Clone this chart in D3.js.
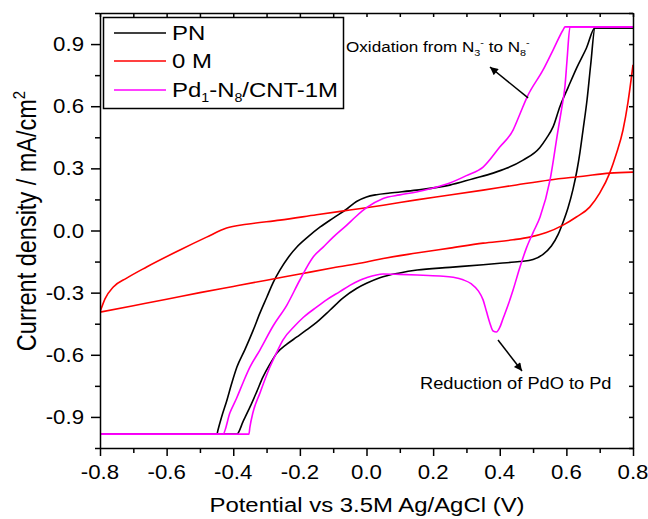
<!DOCTYPE html>
<html>
<head>
<meta charset="utf-8">
<script src="https://cdn.jsdelivr.net/npm/d3@7"></script>
<style>
body { margin: 0; background: #fff; }
svg { display: block; font-family: "Liberation Sans", Arial, sans-serif; }
</style>
</head>
<body>
<div id="chart"></div>
<script>
// axis ticks
var xTicks = [-0.8, -0.6, -0.4, -0.2, 0.0, 0.2, 0.4, 0.6, 0.8];
var xMinor = [-0.7, -0.5, -0.3, -0.1, 0.1, 0.3, 0.5, 0.7];
var yTicks = [-0.9, -0.6, -0.3, 0.0, 0.3, 0.6, 0.9];
var yMinor = [-1.05, -0.75, -0.45, -0.15, 0.15, 0.45, 0.75, 1.05];

var seriesNames = ["PN", "0 M", "Pd1-N8/CNT-1M"];

// [potential (V), current density (mA/cm2)], one array per sweep direction
var pnForward = [
  [-0.80,-0.983],[-0.389,-0.983],[-0.37,-0.92],[-0.35,-0.853],[-0.33,-0.78],[-0.311,-0.708],
  [-0.29,-0.645],[-0.269,-0.592],[-0.24,-0.55],[-0.209,-0.514],[-0.18,-0.48],[-0.149,-0.442],
  [-0.11,-0.385],[-0.07,-0.325],[-0.03,-0.28],[0.00,-0.255],[0.04,-0.228],[0.10,-0.205],
  [0.152,-0.191],[0.25,-0.178],[0.35,-0.165],[0.40,-0.158],[0.46,-0.15],[0.50,-0.14],
  [0.53,-0.115],[0.555,-0.075],[0.575,-0.02],[0.59,0.04],[0.605,0.11],[0.62,0.20],
  [0.632,0.292],[0.641,0.38],[0.65,0.485],[0.662,0.63],[0.673,0.80],[0.686,0.978],[0.80,0.978]
];
var pnReverse = [
  [0.80,0.978],[0.686,0.978],[0.66,0.88],[0.632,0.789],[0.605,0.69],[0.581,0.60],[0.56,0.50],
  [0.54,0.445],[0.52,0.40],[0.47,0.34],[0.42,0.30],[0.38,0.277],[0.32,0.25],[0.25,0.219],
  [0.15,0.195],[0.07,0.181],[0.03,0.173],[0.00,0.162],[-0.03,0.14],[-0.058,0.105],[-0.10,0.06],
  [-0.139,0.017],[-0.175,-0.03],[-0.209,-0.08],[-0.235,-0.13],[-0.26,-0.191],[-0.28,-0.25],
  [-0.299,-0.321],[-0.32,-0.399],[-0.34,-0.481],[-0.365,-0.575],[-0.389,-0.659],[-0.405,-0.74],
  [-0.419,-0.819],[-0.435,-0.90],[-0.446,-0.964],[-0.449,-0.983],[-0.80,-0.983]
];

var zeroMForward = [
  [-0.80,-0.394],[-0.70,-0.363],[-0.60,-0.332],[-0.50,-0.30],[-0.40,-0.27],[-0.30,-0.24],
  [-0.20,-0.21],[-0.10,-0.18],[0.00,-0.152],[0.05,-0.135],[0.15,-0.109],[0.25,-0.085],
  [0.35,-0.061],[0.44,-0.045],[0.49,-0.032],[0.54,-0.01],[0.59,0.026],[0.63,0.065],
  [0.67,0.113],[0.70,0.18],[0.73,0.277],[0.75,0.37],[0.77,0.485],[0.785,0.62],[0.80,0.80]
];
var zeroMReverse = [
  [0.80,0.282],[0.73,0.277],[0.65,0.262],[0.55,0.244],[0.45,0.22],[0.35,0.195],[0.25,0.171],
  [0.15,0.148],[0.05,0.122],[-0.05,0.099],[-0.15,0.076],[-0.26,0.05],[-0.36,0.03],
  [-0.42,0.012],[-0.48,-0.032],[-0.56,-0.094],[-0.66,-0.176],[-0.72,-0.23],[-0.76,-0.273],
  [-0.785,-0.33],[-0.80,-0.394]
];

var pdForward = [
  [-0.80,-0.983],[-0.353,-0.983],[-0.35,-0.949],[-0.341,-0.88],[-0.32,-0.785],[-0.29,-0.659],
  [-0.27,-0.59],[-0.251,-0.529],[-0.215,-0.46],[-0.19,-0.42],[-0.15,-0.37],[-0.12,-0.335],
  [-0.08,-0.295],[-0.05,-0.265],[-0.02,-0.24],[0.00,-0.228],[0.05,-0.21],[0.10,-0.212],
  [0.152,-0.215],[0.22,-0.22],[0.26,-0.226],[0.29,-0.238],[0.315,-0.258],[0.335,-0.29],
  [0.35,-0.335],[0.36,-0.39],[0.37,-0.445],[0.38,-0.485],[0.39,-0.49],[0.40,-0.468],
  [0.41,-0.425],[0.425,-0.36],[0.44,-0.287],[0.461,-0.175],[0.48,-0.085],[0.50,-0.01],
  [0.521,0.065],[0.551,0.244],[0.575,0.485],[0.587,0.60],[0.596,0.70],[0.602,0.823],
  [0.611,0.983],[0.80,0.983]
];
var pdReverse = [
  [0.80,0.983],[0.596,0.983],[0.59,0.968],[0.56,0.871],[0.53,0.775],[0.482,0.644],[0.46,0.56],
  [0.44,0.485],[0.40,0.403],[0.35,0.306],[0.30,0.265],[0.25,0.229],[0.20,0.205],[0.15,0.186],
  [0.10,0.172],[0.05,0.155],[0.00,0.11],[-0.03,0.07],[-0.06,0.025],[-0.10,-0.032],
  [-0.13,-0.08],[-0.16,-0.128],[-0.20,-0.239],[-0.239,-0.36],[-0.28,-0.46],[-0.32,-0.577],
  [-0.35,-0.66],[-0.371,-0.736],[-0.39,-0.81],[-0.41,-0.88],[-0.431,-0.983],[-0.80,-0.983]
];

var colors = ["#000000", "#ff0000", "#ff00ff"];

var width = 648, height = 519;
var margin = {top: 13, right: 15, bottom: 71, left: 100};
var plotW = width - margin.left - margin.right;
var plotH = height - margin.top - margin.bottom;
var sx = 1.14; // reference text is a bit wide

var xScale = d3.scaleLinear().domain([-0.8, 0.8]).range([0, plotW]);
var yScale = d3.scaleLinear().domain([-1.05, 1.05]).range([plotH, 0]);

var svg = d3.select("#chart").append("svg")
  .attr("width", width)
  .attr("height", height);

var g = svg.append("g")
  .attr("transform", "translate(" + margin.left + "," + margin.top + ")");

g.append("clipPath").attr("id", "plot-clip")
  .append("rect").attr("width", plotW).attr("height", plotH);

var line = d3.line()
  .curve(d3.curveMonotoneX)
  .x(function(d) { return xScale(d[0]); })
  .y(function(d) { return yScale(d[1]); });

var branches = [
  {data: pnForward, s: 0}, {data: pnReverse, s: 0},
  {data: zeroMForward, s: 1}, {data: zeroMReverse, s: 1},
  {data: pdForward, s: 2}, {data: pdReverse, s: 2}
];
g.append("g").attr("clip-path", "url(#plot-clip)")
  .selectAll("path")
  .data(branches)
  .enter().append("path")
  .attr("d", function(d) { return line(d.data); })
  .attr("fill", "none")
  .attr("stroke", function(d) { return colors[d.s]; })
  .attr("stroke-width", 1.6)
  .attr("stroke-linejoin", "round");

// axes
function addAxis(axis, tx, ty, keepDomain) {
  var a = g.append("g").attr("transform", "translate(" + tx + "," + ty + ")").call(axis);
  if (!keepDomain) a.select(".domain").remove();
  a.selectAll("path, line").attr("stroke", "#000").attr("stroke-width", 1.5);
  a.selectAll("text").remove();
}

addAxis(d3.axisBottom(xScale).tickValues(xTicks).tickSizeInner(8).tickSizeOuter(0), 0, plotH, true);
addAxis(d3.axisBottom(xScale).tickValues(xMinor).tickSizeInner(5).tickSizeOuter(0), 0, plotH, false);
addAxis(d3.axisLeft(yScale).tickValues(yTicks).tickSizeInner(9).tickSizeOuter(0), 0, 0, true);
addAxis(d3.axisLeft(yScale).tickValues(yMinor).tickSizeInner(5).tickSizeOuter(0), 0, 0, false);
addAxis(d3.axisTop(xScale).tickValues(xTicks.concat(xMinor)).tickSizeInner(-4).tickSizeOuter(0), 0, 0, true);
addAxis(d3.axisRight(yScale).tickValues(yTicks.concat(yMinor)).tickSizeInner(-4).tickSizeOuter(0), plotW, 0, true);

g.selectAll(".xlab").data(xTicks).enter().append("text")
  .attr("class", "xlab")
  .attr("transform", function(d) { return "translate(" + xScale(d) + "," + (plotH + 31) + ") scale(" + sx + ",1)"; })
  .attr("text-anchor", "middle")
  .attr("font-size", 19.5)
  .text(function(d) { return d.toFixed(1); });

g.selectAll(".ylab").data(yTicks).enter().append("text")
  .attr("class", "ylab")
  .attr("transform", function(d) { return "translate(-16," + (yScale(d) + 7) + ") scale(" + sx + ",1)"; })
  .attr("text-anchor", "end")
  .attr("font-size", 19.5)
  .text(function(d) { return d.toFixed(1); });

// axis titles
svg.append("text")
  .attr("transform", "translate(367,512) scale(" + sx + ",1)")
  .attr("text-anchor", "middle")
  .attr("font-size", 21)
  .text("Potential vs 3.5M Ag/AgCl (V)");

var yt = svg.append("text")
  .attr("transform", "translate(36,221) scale(" + sx + ",1) rotate(-90)")
  .attr("text-anchor", "middle")
  .attr("font-size", 23.5);
yt.append("tspan").text("Current density / mA/cm");
yt.append("tspan").attr("font-size", 15).attr("dy", -10).text("2");

// legend
var lg = svg.append("g");
lg.append("rect")
  .attr("x", 103.5).attr("y", 17.5).attr("width", 240).attr("height", 91)
  .attr("fill", "#fff").attr("stroke", "#000").attr("stroke-width", 1.5);
var rowY = [33, 61, 90];
seriesNames.forEach(function(name, i) {
  lg.append("line")
    .attr("x1", 114).attr("x2", 166).attr("y1", rowY[i]).attr("y2", rowY[i])
    .attr("stroke", colors[i]).attr("stroke-width", 1.6);
  var t = lg.append("text")
    .attr("transform", "translate(172," + (rowY[i] + 7) + ") scale(" + sx + ",1)")
    .attr("font-size", 21);
  if (name.indexOf("Pd1") === 0) {
    t.append("tspan").text("Pd");
    t.append("tspan").attr("font-size", 12.5).attr("dy", 5).text("1");
    t.append("tspan").attr("dy", -5).text("-N");
    t.append("tspan").attr("font-size", 12.5).attr("dy", 5).text("8");
    t.append("tspan").attr("dy", -5).text("/CNT-1M");
  } else {
    t.text(name);
  }
});

// annotations
svg.append("defs").append("marker")
  .attr("id", "head").attr("viewBox", "0 0 10 10")
  .attr("refX", 10).attr("refY", 5)
  .attr("markerWidth", 10).attr("markerHeight", 8)
  .attr("markerUnits", "userSpaceOnUse")
  .attr("orient", "auto")
  .append("path").attr("d", "M0,0L10,5L0,10z").attr("fill", "#000");

var ox = svg.append("text")
  .attr("transform", "translate(346,52) scale(" + sx + ",1)")
  .attr("font-size", 15);
ox.append("tspan").text("Oxidation from N");
ox.append("tspan").attr("font-size", 9.5).attr("dy", 4).text("3");
ox.append("tspan").attr("font-size", 9.5).attr("dy", -10).text("-");
ox.append("tspan").attr("dy", 6).text(" to N");
ox.append("tspan").attr("font-size", 9.5).attr("dy", 4).text("8");
ox.append("tspan").attr("font-size", 9.5).attr("dy", -10).text("-");

svg.append("text")
  .attr("transform", "translate(420,389) scale(" + sx + ",1)")
  .attr("font-size", 16)
  .text("Reduction of PdO to Pd");

svg.append("line")
  .attr("x1", xScale(0.485) + margin.left).attr("y1", yScale(0.64) + margin.top)
  .attr("x2", 490).attr("y2", 67)
  .attr("stroke", "#000").attr("stroke-width", 1.5)
  .attr("marker-end", "url(#head)");

svg.append("line")
  .attr("x1", 498).attr("y1", 340)
  .attr("x2", 522).attr("y2", 371)
  .attr("stroke", "#000").attr("stroke-width", 1.5)
  .attr("marker-end", "url(#head)");
</script>
</body>
</html>
